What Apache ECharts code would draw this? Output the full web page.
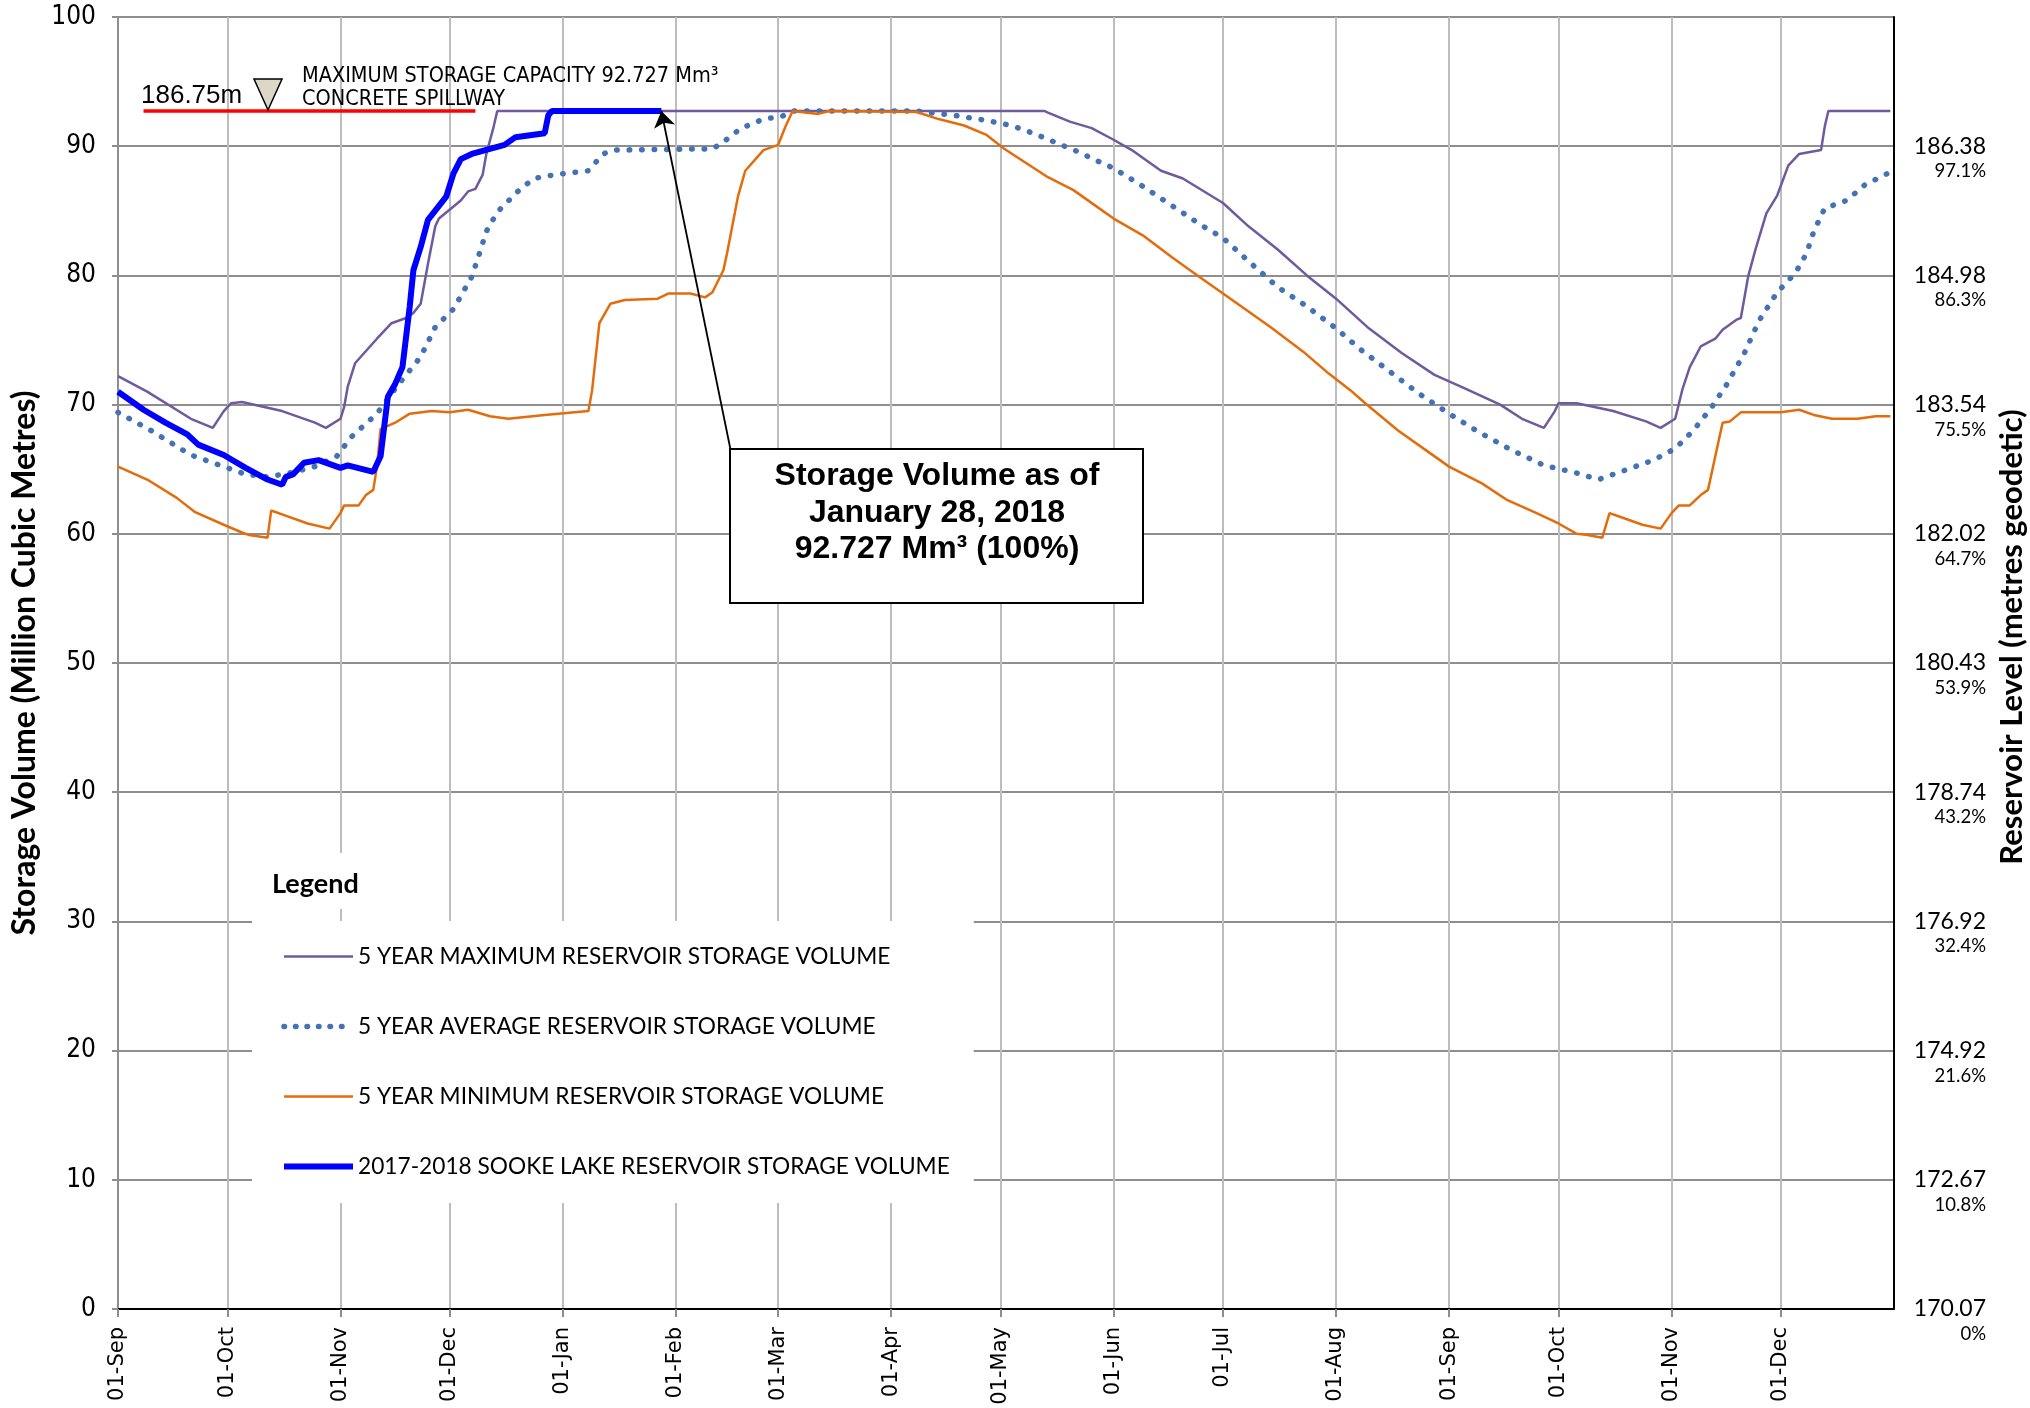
<!DOCTYPE html>
<html>
<head>
<meta charset="utf-8">
<script src="https://cdn.jsdelivr.net/npm/echarts@6/dist/echarts.min.js"></script>
<style>
  html, body { margin: 0; padding: 0; background: #fff; }
  #chart { width: 2030px; height: 1408px; }
</style>
</head>
<body>
<div id="chart"></div>
<script>
// 5 year statistics and the 2017-2018 storage volume (Mm3)
const maxVolume = [
  ['2017-09-01', 72.2], ['2017-09-09', 71.0], ['2017-09-21', 68.9], ['2017-09-27', 68.2],
  ['2017-09-30', 69.5], ['2017-10-02', 70.1], ['2017-10-05', 70.2], ['2017-10-16', 69.5],
  ['2017-10-25', 68.6], ['2017-10-28', 68.2], ['2017-11-01', 68.9], ['2017-11-02', 69.8],
  ['2017-11-03', 71.4], ['2017-11-05', 73.2], ['2017-11-11', 75.1], ['2017-11-15', 76.3],
  ['2017-11-19', 76.7], ['2017-11-21', 77.1], ['2017-11-23', 77.8], ['2017-11-25', 80.9],
  ['2017-11-27', 83.8], ['2017-11-28', 84.4], ['2017-12-01', 85.1], ['2017-12-04', 85.8],
  ['2017-12-06', 86.5], ['2017-12-08', 86.7], ['2017-12-10', 87.8], ['2017-12-11', 89.4],
  ['2017-12-13', 91.5], ['2017-12-14', 92.727], ['2018-05-13', 92.727], ['2018-05-14', 92.6],
  ['2018-05-20', 91.9], ['2018-05-26', 91.4], ['2018-06-01', 90.5], ['2018-06-06', 89.7],
  ['2018-06-14', 88.1], ['2018-06-20', 87.5], ['2018-07-01', 85.6], ['2018-07-08', 83.8],
  ['2018-07-16', 82.0], ['2018-07-24', 80.0], ['2018-08-01', 78.2], ['2018-08-10', 75.9],
  ['2018-08-19', 74.0], ['2018-08-28', 72.3], ['2018-09-05', 71.3], ['2018-09-15', 70.0],
  ['2018-09-21', 68.9], ['2018-09-27', 68.2], ['2018-09-30', 69.5], ['2018-10-01', 70.1],
  ['2018-10-06', 70.1], ['2018-10-16', 69.5], ['2018-10-25', 68.7], ['2018-10-29', 68.2],
  ['2018-11-02', 68.9], ['2018-11-04', 71.2], ['2018-11-06', 72.9], ['2018-11-09', 74.5],
  ['2018-11-13', 75.1], ['2018-11-15', 75.8], ['2018-11-19', 76.6], ['2018-11-20', 76.7],
  ['2018-11-22', 79.9], ['2018-11-24', 82.0], ['2018-11-27', 84.8], ['2018-11-30', 86.2],
  ['2018-12-03', 88.5], ['2018-12-06', 89.4], ['2018-12-12', 89.7], ['2018-12-13', 91.5],
  ['2018-12-14', 92.727], ['2018-12-31', 92.727]
];

const avgVolume = [
  ['2017-09-01', 69.4], ['2017-09-10', 68.0], ['2017-09-21', 66.1], ['2017-09-30', 65.2],
  ['2017-10-06', 64.6], ['2017-10-12', 64.4], ['2017-10-18', 64.7], ['2017-10-25', 65.2],
  ['2017-10-31', 66.0], ['2017-11-04', 67.5], ['2017-11-11', 69.3], ['2017-11-17', 71.6],
  ['2017-11-23', 73.7], ['2017-11-27', 76.0], ['2017-12-02', 77.4], ['2017-12-07', 79.9],
  ['2017-12-09', 81.6], ['2017-12-11', 83.4], ['2017-12-14', 84.9], ['2017-12-20', 86.6],
  ['2017-12-24', 87.5], ['2017-12-30', 87.8], ['2018-01-08', 88.1], ['2018-01-12', 89.4],
  ['2018-01-15', 89.7], ['2018-02-11', 89.8], ['2018-02-14', 90.3], ['2018-02-16', 90.8],
  ['2018-02-19', 91.4], ['2018-02-25', 92.1], ['2018-03-02', 92.3], ['2018-03-05', 92.727],
  ['2018-04-08', 92.727], ['2018-04-11', 92.6], ['2018-04-18', 92.4], ['2018-04-27', 92.0],
  ['2018-05-04', 91.6], ['2018-05-10', 91.0], ['2018-05-16', 90.3], ['2018-05-22', 89.6],
  ['2018-05-28', 88.8], ['2018-06-01', 88.3], ['2018-06-09', 86.9], ['2018-06-17', 85.4],
  ['2018-06-25', 83.9], ['2018-07-01', 82.9], ['2018-07-08', 81.1], ['2018-07-16', 79.1],
  ['2018-07-24', 77.6], ['2018-08-01', 75.9], ['2018-08-08', 74.2], ['2018-08-16', 72.5],
  ['2018-08-24', 70.8], ['2018-09-01', 69.3], ['2018-09-09', 67.9], ['2018-09-18', 66.5],
  ['2018-09-27', 65.3], ['2018-10-06', 64.7], ['2018-10-12', 64.2], ['2018-10-18', 64.8],
  ['2018-10-27', 65.7], ['2018-11-02', 66.6], ['2018-11-07', 68.0], ['2018-11-12', 69.8],
  ['2018-11-16', 71.5], ['2018-11-21', 74.0], ['2018-11-25', 76.5], ['2018-11-30', 78.7],
  ['2018-12-05', 80.2], ['2018-12-08', 81.7], ['2018-12-10', 83.4], ['2018-12-13', 85.2],
  ['2018-12-19', 85.8], ['2018-12-24', 87.0], ['2018-12-31', 88.0]
];

const minVolume = [
  ['2017-09-01', 65.2], ['2017-09-09', 64.2], ['2017-09-17', 62.8], ['2017-09-22', 61.7],
  ['2017-09-30', 60.7], ['2017-10-05', 60.1], ['2017-10-07', 59.9], ['2017-10-12', 59.7],
  ['2017-10-13', 61.8], ['2017-10-16', 61.5], ['2017-10-23', 60.8], ['2017-10-29', 60.4],
  ['2017-11-01', 61.6], ['2017-11-02', 62.2], ['2017-11-06', 62.2], ['2017-11-08', 63.0],
  ['2017-11-10', 63.4], ['2017-11-11', 65.2], ['2017-11-12', 68.1], ['2017-11-16', 68.6],
  ['2017-11-20', 69.3], ['2017-11-26', 69.5], ['2017-12-01', 69.4], ['2017-12-06', 69.6],
  ['2017-12-12', 69.1], ['2017-12-17', 68.9], ['2017-12-27', 69.2], ['2018-01-08', 69.5],
  ['2018-01-09', 71.1], ['2018-01-11', 76.3], ['2018-01-14', 77.8], ['2018-01-18', 78.1],
  ['2018-01-27', 78.2], ['2018-01-30', 78.6], ['2018-02-05', 78.6], ['2018-02-09', 78.3],
  ['2018-02-11', 78.7], ['2018-02-14', 80.4], ['2018-02-15', 81.7], ['2018-02-18', 86.1],
  ['2018-02-20', 88.1], ['2018-02-25', 89.7], ['2018-03-01', 90.1], ['2018-03-03', 91.5],
  ['2018-03-05', 92.727], ['2018-03-12', 92.5], ['2018-03-15', 92.727], ['2018-04-08', 92.65],
  ['2018-04-14', 92.1], ['2018-04-21', 91.6], ['2018-04-27', 90.9], ['2018-05-02', 89.8],
  ['2018-05-08', 88.7], ['2018-05-14', 87.6], ['2018-05-21', 86.6], ['2018-05-27', 85.4],
  ['2018-06-01', 84.4], ['2018-06-09', 83.1], ['2018-06-17', 81.4], ['2018-06-24', 80.0],
  ['2018-07-01', 78.6], ['2018-07-08', 77.2], ['2018-07-14', 76.0], ['2018-07-23', 74.1],
  ['2018-07-30', 72.4], ['2018-08-05', 71.1], ['2018-08-09', 70.1], ['2018-08-18', 68.0],
  ['2018-08-26', 66.4], ['2018-09-01', 65.2], ['2018-09-10', 63.9], ['2018-09-17', 62.6],
  ['2018-09-25', 61.6], ['2018-10-01', 60.8], ['2018-10-06', 60.0], ['2018-10-09', 59.9],
  ['2018-10-13', 59.7], ['2018-10-15', 61.6], ['2018-10-19', 61.2], ['2018-10-24', 60.7],
  ['2018-10-29', 60.4], ['2018-11-01', 61.6], ['2018-11-03', 62.2], ['2018-11-06', 62.2],
  ['2018-11-09', 63.0], ['2018-11-11', 63.4], ['2018-11-13', 66.0], ['2018-11-15', 68.6],
  ['2018-11-17', 68.7], ['2018-11-20', 69.4], ['2018-11-28', 69.4], ['2018-12-01', 69.4],
  ['2018-12-06', 69.6], ['2018-12-10', 69.2], ['2018-12-15', 68.9], ['2018-12-22', 68.9],
  ['2018-12-27', 69.1], ['2018-12-31', 69.1]
];

const currentVolume = [
  ['2017-09-01', 71.0], ['2017-09-08', 69.6], ['2017-09-14', 68.6], ['2017-09-20', 67.7],
  ['2017-09-23', 66.9], ['2017-09-30', 66.1], ['2017-10-06', 65.1], ['2017-10-12', 64.2],
  ['2017-10-16', 63.8], ['2017-10-17', 64.4], ['2017-10-19', 64.6], ['2017-10-22', 65.5],
  ['2017-10-26', 65.7], ['2017-11-01', 65.1], ['2017-11-03', 65.3], ['2017-11-10', 64.8],
  ['2017-11-12', 66.0], ['2017-11-14', 70.6], ['2017-11-16', 71.6], ['2017-11-18', 72.9],
  ['2017-11-20', 77.6], ['2017-11-21', 80.4], ['2017-11-23', 82.2], ['2017-11-25', 84.3],
  ['2017-11-30', 86.1], ['2017-12-02', 87.9], ['2017-12-04', 89.0], ['2017-12-07', 89.4],
  ['2017-12-12', 89.8], ['2017-12-16', 90.1], ['2017-12-19', 90.7], ['2017-12-27', 91.0],
  ['2017-12-28', 92.4], ['2017-12-29', 92.727], ['2018-01-28', 92.727]
];

// right axis: reservoir level and percent full at each 10 Mm3 step
const levelLabels = ['170.07', '172.67', '174.92', '176.92', '178.74', '180.43', '182.02', '183.54', '184.98', '186.38'];
const pctLabels = ['0%', '10.8%', '21.6%', '32.4%', '43.2%', '53.9%', '64.7%', '75.5%', '86.3%', '97.1%'];
const monthNames = ['Jan', 'Feb', 'Mar', 'Apr', 'May', 'Jun', 'Jul', 'Aug', 'Sep', 'Oct', 'Nov', 'Dec'];

const spillway = 92.727;
const asOfDate = '2018-01-28';

function ts(s) {
  const p = s.split('-');
  return new Date(+p[0], +p[1] - 1, +p[2]).getTime();
}
function pts(arr) {
  return arr.map(d => [ts(d[0]), d[1]]);
}

const chart = echarts.init(document.getElementById('chart'));
const DAY = 86400000;
const narrow = "'Liberation Sans Narrow', 'DejaVu Sans Condensed', 'Liberation Sans', sans-serif";
const noSymbol = { opacity: 0 };

const option = {
  animation: false,
  backgroundColor: '#fff',
  grid: { left: 118, right: 136, top: 17, bottom: 99, outerBoundsMode: 'none' },
  xAxis: [
    {
      type: 'time',
      min: ts('2017-09-01'),
      max: ts('2019-01-01'),
      minInterval: 30 * DAY,
      maxInterval: 30 * DAY,
      axisLine: { lineStyle: { color: '#8e8e8e', width: 2 } },
      axisTick: { show: true, length: 8, lineStyle: { color: '#8e8e8e', width: 2 } },
      splitLine: { show: true, lineStyle: { color: '#bdbdbd', width: 2 } },
      axisLabel: {
        rotate: 90,
        margin: 18,
        showMaxLabel: false,
        fontFamily: "'DejaVu Sans', sans-serif",
        fontSize: 21,
        color: '#000',
        formatter: function (val) {
          const d = new Date(val);
          const day = d.getDate();
          return (day < 10 ? '0' + day : day) + '-' + monthNames[d.getMonth()];
        }
      }
    },
    {
      type: 'time',
      position: 'top',
      min: ts('2017-09-01'),
      max: ts('2019-01-01'),
      axisLine: { show: true, lineStyle: { color: '#000', width: 2 } },
      axisTick: { show: false },
      axisLabel: { show: false },
      splitLine: { show: false }
    }
  ],
  yAxis: [
    {
      type: 'value',
      min: 0,
      max: 100,
      interval: 10,
      name: 'Storage Volume (Million Cubic Metres)',
      nameLocation: 'middle',
      nameGap: 73,
      nameTextStyle: { fontFamily: 'Lato, sans-serif', fontWeight: 'bold', fontSize: 32, color: '#000' },
      axisLine: { show: true, lineStyle: { color: '#8e8e8e', width: 2 } },
      axisTick: { show: true, length: 6, lineStyle: { color: '#8e8e8e', width: 2 } },
      splitLine: { show: true, lineStyle: { color: '#8e8e8e', width: 2 } },
      axisLabel: { margin: 22, fontFamily: narrow, fontSize: 26, color: '#000' }
    },
    {
      type: 'value',
      position: 'right',
      min: 0,
      max: 100,
      interval: 10,
      name: 'Reservoir Level (metres geodetic)',
      nameLocation: 'middle',
      nameRotate: 90,
      nameGap: 98,
      nameTextStyle: {
        fontFamily: 'Lato, sans-serif', fontWeight: 'bold', fontSize: 31, color: '#000',
        padding: [0, 0, 0, 52]
      },
      axisLine: { show: true, lineStyle: { color: '#000', width: 2 } },
      axisTick: { show: false },
      splitLine: { show: false },
      axisLabel: {
        margin: 12,
        align: 'left',
        formatter: function (v) {
          const i = Math.round(v / 10);
          if (i > 9) return '';
          return '{s| }\n{a|' + levelLabels[i] + '}\n{b|' + pctLabels[i] + '}';
        },
        rich: {
          s: { fontSize: 10, lineHeight: 24 },
          a: { fontFamily: 'Lato, sans-serif', fontSize: 23, lineHeight: 26, width: 80, align: 'right', color: '#000' },
          b: { fontFamily: 'Lato, sans-serif', fontSize: 18.5, lineHeight: 24, width: 78, align: 'right', color: '#000' }
        }
      }
    }
  ],
  legend: {
    orient: 'vertical',
    left: 252,
    top: 921,
    backgroundColor: '#fff',
    padding: [24, 24, 25, 29],
    itemGap: 47,
    itemWidth: 69,
    itemHeight: 24,
    textStyle: { fontFamily: 'Lato, sans-serif', fontSize: 22.7, color: '#000' },
    data: [
      { name: '5 YEAR MAXIMUM RESERVOIR STORAGE VOLUME', itemStyle: noSymbol, lineStyle: { width: 2.5 } },
      { name: '5 YEAR AVERAGE RESERVOIR STORAGE VOLUME', itemStyle: noSymbol, lineStyle: { width: 5.5, type: [0.5, 11], cap: 'round' } },
      { name: '5 YEAR MINIMUM RESERVOIR STORAGE VOLUME', itemStyle: noSymbol, lineStyle: { width: 2.5 } },
      { name: '2017-2018 SOOKE LAKE RESERVOIR STORAGE VOLUME', itemStyle: noSymbol, lineStyle: { width: 6 } }
    ]
  },
  series: [
    {
      name: '5 YEAR MAXIMUM RESERVOIR STORAGE VOLUME',
      type: 'line',
      symbol: 'none',
      data: pts(maxVolume),
      lineStyle: { color: '#6f5a9e', width: 2.5 },
      itemStyle: { color: '#6f5a9e' },
      markLine: {
        silent: true,
        symbol: 'none',
        label: { show: false },
        lineStyle: { color: '#ff0000', width: 3.5, type: 'solid' },
        data: [[{ coord: [ts('2017-09-08'), spillway] }, { coord: [ts('2017-12-08'), spillway] }]]
      }
    },
    {
      name: '5 YEAR AVERAGE RESERVOIR STORAGE VOLUME',
      type: 'line',
      symbol: 'none',
      data: pts(avgVolume),
      lineStyle: { color: '#4472b4', width: 5.5, type: [0.5, 12], cap: 'round' },
      itemStyle: { color: '#4472b4' }
    },
    {
      name: '5 YEAR MINIMUM RESERVOIR STORAGE VOLUME',
      type: 'line',
      symbol: 'none',
      data: pts(minVolume),
      lineStyle: { color: '#e46c0a', width: 2.5 },
      itemStyle: { color: '#e46c0a' }
    },
    {
      name: '2017-2018 SOOKE LAKE RESERVOIR STORAGE VOLUME',
      type: 'line',
      symbol: 'none',
      data: pts(currentVolume),
      lineStyle: { color: '#0000ff', width: 6 },
      itemStyle: { color: '#0000ff' },
      markLine: {
        silent: true,
        symbol: ['arrow', 'none'],
        symbolSize: 16,
        label: { show: false },
        lineStyle: { color: '#000', width: 1.8, type: 'solid' },
        data: [[{ coord: [ts(asOfDate), spillway] }, { x: 731, y: 452 }]]
      }
    }
  ],
  graphic: [
    {
      type: 'text', z: 10,
      style: { text: '186.75m', x: 141, y: 96, font: "26px 'Liberation Sans', sans-serif", fill: '#000',
        textVerticalAlign: 'middle', verticalAlign: 'middle' }
    },
    {
      type: 'polygon', z: 10,
      shape: { points: [[254, 79], [282, 79], [268, 110]] },
      style: { fill: '#ddd7c7', stroke: '#000', lineWidth: 1.5 }
    },
    {
      type: 'text', z: 10,
      style: { text: 'MAXIMUM STORAGE CAPACITY 92.727 Mm³', x: 302, y: 76, font: '21.5px ' + narrow, fill: '#000',
        textVerticalAlign: 'middle', verticalAlign: 'middle' }
    },
    {
      type: 'text', z: 10,
      style: { text: 'CONCRETE SPILLWAY', x: 302, y: 99, font: '21.5px ' + narrow, fill: '#000',
        textVerticalAlign: 'middle', verticalAlign: 'middle' }
    },
    {
      type: 'rect', z: 9,
      shape: { x: 252, y: 853, width: 115, height: 56 },
      style: { fill: '#fff' }
    },
    {
      type: 'text', z: 10,
      style: { text: 'Legend', x: 272, y: 884, font: "bold 27px Lato, sans-serif", fill: '#000',
        textVerticalAlign: 'middle', verticalAlign: 'middle' }
    },
    {
      type: 'rect', z: 9,
      shape: { x: 730, y: 449, width: 413, height: 154 },
      style: { fill: '#fff', stroke: '#000', lineWidth: 2 }
    },
    {
      type: 'text', z: 10,
      style: {
        text: 'Storage Volume as of\nJanuary 28, 2018\n92.727 Mm³ (100%)',
        x: 937, y: 458,
        font: "bold 32px 'Liberation Sans', Arial, sans-serif",
        lineHeight: 36.5,
        fill: '#000',
        textAlign: 'center', align: 'center',
        textVerticalAlign: 'top', verticalAlign: 'top'
      }
    }
  ]
};

chart.setOption(option);
</script>
</body>
</html>
